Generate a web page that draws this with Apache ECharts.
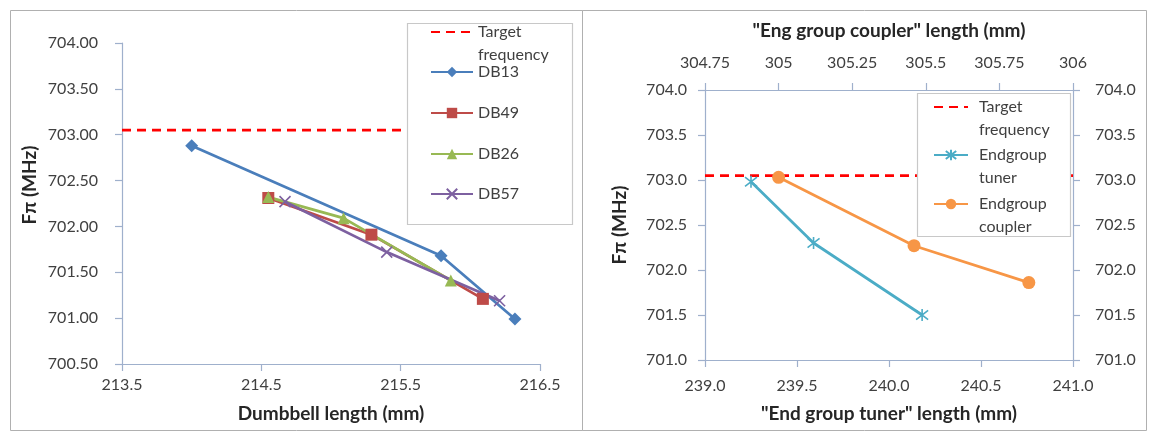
<!DOCTYPE html>
<html>
<head>
<meta charset="utf-8">
<script src="https://cdn.jsdelivr.net/npm/echarts@6/dist/echarts.min.js"></script>
<style>
  html, body { margin: 0; padding: 0; background: #fff; }
  #chart { width: 1150px; height: 434px; }
</style>
</head>
<body>
<div id="chart"></div>
<script>
// ---- Left panel: dumbbell length vs F-pi ----
const targetFreq = 703.05;
const dumbbellTicks = [213.5, 214.5, 215.5, 216.5];
const db13Len = [214.0, 215.79, 216.32];
const db13Freq = [702.88, 701.68, 700.99];
const db49Len = [214.55, 215.29, 216.09];
const db49Freq = [702.31, 701.91, 701.21];
const db26Len = [214.55, 215.09, 215.86];
const db26Freq = [702.32, 702.09, 701.41];
const db57Len = [214.67, 215.40, 216.21];
const db57Freq = [702.27, 701.72, 701.19];

// ---- Right panel: end group tuner / coupler length vs F-pi ----
const tunerLen = [239.25, 239.59, 240.18];
const tunerFreq = [702.98, 702.30, 701.50];
const couplerLen = [305.0, 305.46, 305.85];
const couplerFreq = [703.03, 702.27, 701.86];

const FONT = 'Lato, "Open Sans", sans-serif';
const AXIS_COLOR = '#9fb0cc';
const LABEL_COLOR = '#404040';
const TITLE_COLOR = '#262626';

const zip = (xs, ys) => xs.map((x, i) => [x, ys[i]]);

const axisLine = { show: true, lineStyle: { color: AXIS_COLOR, width: 1.2 } };
const tick = { show: true, length: 7, lineStyle: { color: AXIS_COLOR, width: 1.2 } };
const label = (fmt, margin) => ({ color: LABEL_COLOR, fontSize: 16, fontFamily: FONT, formatter: fmt, margin });
const titleStyle = { color: TITLE_COLOR, fontSize: 19, fontWeight: 'bold', fontFamily: FONT };

const xPath = 'path://M0,0L10,10M10,0L0,10';
const starPath = 'path://M0,0L10,10M10,0L0,10M5,-1.5L5,11.5';

function lineSeries(name, data, color, symbol, size, xi, yi, openMarker) {
  return {
    name, type: 'line', data, xAxisIndex: xi, yAxisIndex: yi,
    symbol, symbolSize: size, showSymbol: true,
    lineStyle: { color, width: 2.75 },
    itemStyle: openMarker ? { color, borderColor: color, borderWidth: 1.6 } : { color, borderWidth: 0 },
    emphasis: { disabled: true },
    z: 3
  };
}

function targetSeries(xRange, xi, yi) {
  return {
    name: 'Target frequency', type: 'line', xAxisIndex: xi, yAxisIndex: yi,
    data: [[xRange[0], targetFreq], [xRange[1], targetFreq]],
    symbol: 'none', lineStyle: { color: '#ff0000', width: 2.75, type: [9, 6] },
    itemStyle: { color: '#ff0000' },
    emphasis: { disabled: true }, z: 2
  };
}

// one legend component per entry so each row can sit at its own height;
// two-line entries get a blank leading line so the icon lines up with the first text line
function legendItem(name, left, iconY, twoLine, iconW, textPadLeft) {
  const lh = 22.6;
  const top = twoLine ? iconY - (lh * 3) / 2 : iconY - lh / 2;
  const entry = name === 'Target frequency'
    ? { name, itemStyle: { opacity: 0 } }
    : { name };
  return {
    data: [entry], left, top, orient: 'vertical', padding: 0,
    itemWidth: iconW, itemHeight: 13, selectedMode: false, z: 20,
    formatter: n => {
      if (n === 'Target frequency') return ' \nTarget\nfrequency';
      if (n.indexOf('Endgroup ') === 0) return ' \nEndgroup\n' + n.slice(9);
      return n;
    },
    textStyle: {
      color: LABEL_COLOR, fontSize: 16, fontFamily: FONT, lineHeight: lh,
      padding: [0, 0, 0, textPadLeft]
    }
  };
}

const option = {
  animation: false,
  backgroundColor: '#ffffff',
  grid: [
    { left: 122, right: 610, top: 43, bottom: 70 },
    { left: 705, right: 77, top: 90, bottom: 74 }
  ],
  xAxis: [
    {
      gridIndex: 0, type: 'value', min: 213.5, max: 216.5,
      axisLine, splitLine: { show: false },
      axisTick: Object.assign({}, tick, { customValues: dumbbellTicks }),
      axisLabel: Object.assign(label(v => v.toFixed(1), 13), { customValues: dumbbellTicks }),
      name: 'Dumbbell length (mm)', nameLocation: 'middle', nameGap: 40, nameTextStyle: titleStyle
    },
    {
      gridIndex: 1, type: 'value', min: 239, max: 241, interval: 0.5, position: 'bottom',
      axisLine, axisTick: tick, splitLine: { show: false },
      axisLabel: label(v => v.toFixed(1), 18),
      name: '"End group tuner" length (mm)', nameLocation: 'middle', nameGap: 44, nameTextStyle: titleStyle
    },
    {
      gridIndex: 1, type: 'value', min: 304.75, max: 306, interval: 0.25, position: 'top',
      axisLine, axisTick: tick, splitLine: { show: false },
      axisLabel: label(null, 19),
      name: '"Eng group coupler" length (mm)', nameLocation: 'middle', nameGap: 50, nameTextStyle: titleStyle
    }
  ],
  yAxis: [
    {
      gridIndex: 0, type: 'value', min: 700.5, max: 704, interval: 0.5,
      axisLine, axisTick: tick, splitLine: { show: false },
      axisLabel: label(v => v.toFixed(2), 24)
    },
    {
      gridIndex: 1, type: 'value', min: 701, max: 704, interval: 0.5, position: 'left',
      axisLine, axisTick: tick, splitLine: { show: false },
      axisLabel: label(v => v.toFixed(1), 18),
      name: 'Fπ (MHz)', nameLocation: 'middle', nameGap: 76, nameTextStyle: titleStyle
    },
    {
      gridIndex: 1, type: 'value', min: 701, max: 704, interval: 0.5, position: 'right',
      axisLine, axisTick: tick, splitLine: { show: false },
      axisLabel: label(v => v.toFixed(1), 22)
    }
  ],
  legend: [
    legendItem('Target frequency', 430, 32, true, 42, 0),
    legendItem('DB13', 430, 72, false, 42, 0),
    legendItem('DB49', 430, 113, false, 42, 0),
    legendItem('DB26', 430, 154, false, 42, 0),
    legendItem('DB57', 430, 194, false, 42, 0),
    legendItem('Target frequency', 933, 107, true, 34, 6),
    legendItem('Endgroup tuner', 933, 155, true, 34, 6),
    legendItem('Endgroup coupler', 933, 204, true, 34, 6)
  ],
  graphic: [
    { type: 'rect', shape: { x: 10.5, y: 10.5, width: 572, height: 420 }, style: { fill: 'none', stroke: '#b0b0b0', lineWidth: 1 }, z: 0 },
    { type: 'rect', shape: { x: 582.5, y: 10.5, width: 564, height: 420 }, style: { fill: 'none', stroke: '#b0b0b0', lineWidth: 1 }, z: 0 },
    { type: 'rect', shape: { x: 407.5, y: 23.5, width: 165, height: 201 }, style: { fill: '#ffffff', stroke: '#c8c8c8', lineWidth: 1.2 }, z: 10 },
    { type: 'rect', shape: { x: 917.5, y: 93.5, width: 153, height: 143 }, style: { fill: '#ffffff', stroke: '#c8c8c8', lineWidth: 1.2 }, z: 10 },
    {
      type: 'text', x: 30, y: 185, rotation: Math.PI / 2, z: 10,
      style: { text: 'Fπ (MHz)', fill: TITLE_COLOR, font: 'bold 19px ' + FONT, textAlign: 'center', textVerticalAlign: 'middle' }
    }
  ],
  series: [
    targetSeries([213.5, 216.5], 0, 0),
    lineSeries('DB13', zip(db13Len, db13Freq), '#4a7ebb', 'diamond', 13, 0, 0),
    lineSeries('DB49', zip(db49Len, db49Freq), '#be4b48', 'rect', 12, 0, 0),
    lineSeries('DB26', zip(db26Len, db26Freq), '#98b954', 'triangle', 12, 0, 0),
    lineSeries('DB57', zip(db57Len, db57Freq), '#7d60a0', xPath, 11, 0, 0, true),
    targetSeries([239, 241], 1, 1),
    lineSeries('Endgroup tuner', zip(tunerLen, tunerFreq), '#4bacc6', starPath, 12, 1, 1, true),
    lineSeries('Endgroup coupler', zip(couplerLen, couplerFreq), '#f79646', 'circle', 13, 2, 1)
  ]
};

const chart = echarts.init(document.getElementById('chart'), null, { renderer: 'canvas' });
chart.setOption(option);
</script>
</body>
</html>
